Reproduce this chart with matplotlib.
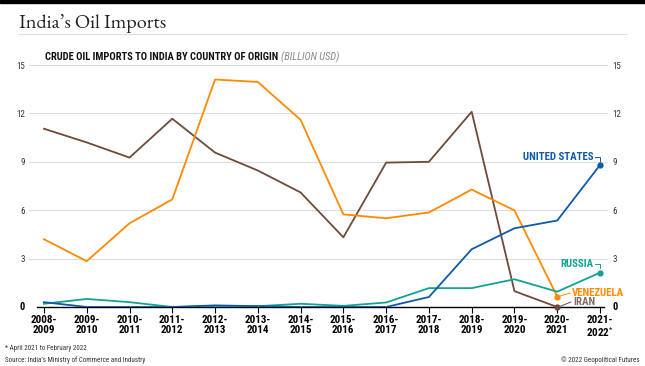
import numpy as np
import matplotlib.pyplot as plt
from matplotlib.patches import Rectangle
from matplotlib.lines import Line2D
from matplotlib.ticker import FuncFormatter

years = ['2008-\n2009', '2009-\n2010', '2010-\n2011', '2011-\n2012', '2012-\n2013',
         '2013-\n2014', '2014-\n2015', '2015-\n2016', '2016-\n2017', '2017-\n2018',
         '2018-\n2019', '2019-\n2020', '2020-\n2021', '2021-\n2022$^{*}$']

iran = [11.05, 10.2, 9.26, 11.67, 9.57, 8.46, 7.1, 4.32, 8.95, 9.0, 12.1, 0.98, 0.0]
venezuela = [4.2, 2.84, 5.19, 6.67, 14.1, 13.95, 11.6, 5.74, 5.5, 5.86, 7.28, 5.99, 0.65]
united_states = [0.3, 0.0, 0.0, 0.0, 0.1, 0.05, 0.0, 0.0, 0.0, 0.62, 3.58, 4.88, 5.36, 8.8]
russia = [0.2, 0.5, 0.3, 0.0, 0.05, 0.05, 0.2, 0.07, 0.28, 1.17, 1.17, 1.72, 0.95, 2.13]

c_iran = '#6e4a3a'
c_ven = '#ff8a00'
c_us = '#0f5aa6'
c_rus = '#12a392'

plt.rcParams['font.family'] = ['Roboto Condensed', 'DejaVu Sans']
plt.rcParams['mathtext.fontset'] = 'custom'
plt.rcParams['mathtext.rm'] = 'Roboto Condensed'
plt.rcParams['mathtext.it'] = 'Roboto Condensed'

W, H = 645, 366
fig = plt.figure(figsize=(W / 100, H / 100), dpi=100)

# top bar, title and rule
fig.patches.append(Rectangle((0, 1 - 3 / H), 1, 3 / H, transform=fig.transFigure,
                             color='black', zorder=5))
fig.text(19 / W, 1 - 28 / H, 'India\u2019s Oil Imports', family=['EB Garamond', 'DejaVu Serif'],
         fontsize=14.5, color='#222222', va='baseline', ha='left')
fig.add_artist(Line2D([19 / W, 627 / W], [1 - 34 / H, 1 - 34 / H], color='#dddddd', lw=0.8))
t = fig.text(45 / W, 1 - 57 / H, 'CRUDE OIL IMPORTS TO INDIA BY COUNTRY OF ORIGIN ',
             fontsize=7.6, fontweight='bold', color='#111111', va='center', ha='left')
fig.canvas.draw()
bb = t.get_window_extent()
fig.text(bb.x1 / W, 1 - 57 / H, '(BILLION USD)', fontsize=7.6, fontstyle='italic',
         color='#888888', va='center', ha='left')

ax = fig.add_axes([29 / W, (H - 307) / H, (608 - 29) / W, (307 - 65) / H])
x = np.arange(len(years))

ax.plot(x[:len(iran)], iran, color=c_iran, lw=1.3, zorder=3)
ax.plot(x[:len(venezuela)], venezuela, color=c_ven, lw=1.3, zorder=3)
ax.plot(x, russia, color=c_rus, lw=1.3, zorder=3)
ax.plot(x, united_states, color=c_us, lw=1.3, zorder=4)

ax.plot(len(iran) - 1, iran[-1], 'o', color=c_iran, ms=3.5, zorder=5, clip_on=False)
ax.plot(len(venezuela) - 1, venezuela[-1], 'o', color=c_ven, ms=3.5, zorder=5)
ax.plot(x[-1], russia[-1], 'o', color=c_rus, ms=3.5, zorder=5)
ax.plot(x[-1], united_states[-1], 'o', color=c_us, ms=3.5, zorder=5)

ax.set_xlim(-0.35, 13.187)
ax.set_ylim(0, 15)
ax.set_yticks([0, 3, 6, 9, 12, 15])
ax.yaxis.set_major_formatter(FuncFormatter(lambda v, p: '' if v == 0 else f'{v:g}'))
ax.grid(axis='y', color='#dddddd', lw=0.8)
ax.set_axisbelow(True)
for s in ['top', 'right', 'left', 'bottom']:
    ax.spines[s].set_visible(False)
ax.plot([-0.17, 13.1], [0, 0], color='black', lw=1.0, zorder=2, clip_on=False)
ax.tick_params(axis='y', length=0, labelsize=6.5, labelcolor='#333333', pad=3,
               labelleft=True, labelright=True)
# zero labels drawn darker, as in the original
tr = ax.get_yaxis_transform()
ax.text(-0.008, 0, '0', transform=tr, ha='right', va='center', fontsize=7.5,
        fontweight='bold', color='black')
ax.text(1.008, 0, '0', transform=tr, ha='left', va='center', fontsize=7.5,
        fontweight='bold', color='black')
ax.set_xticks(x)
ax.set_xticklabels(years, fontsize=8, fontweight='bold', linespacing=0.95)
ax.tick_params(axis='x', length=4, width=0.8, color='black', pad=2)

# series labels
lab = dict(fontsize=7.8, fontweight='bold', va='center')
ax.text(12.84, 9.3, 'UNITED STATES', color=c_us, ha='right', **lab)
ax.plot([12.88, 13.0, 13.0], [9.3, 9.3, 9.05], color=c_us, lw=0.7)
ax.text(12.84, 2.65, 'RUSSIA', color=c_rus, ha='right', **lab)
ax.plot([12.88, 13.0, 13.0], [2.65, 2.65, 2.4], color=c_rus, lw=0.7)
ax.text(12.35, 0.86, 'VENEZUELA', color=c_ven, ha='left', **lab)
ax.plot([12.08, 12.3], [0.7, 0.86], color=c_ven, lw=0.7)
ax.text(12.37, 0.31, 'IRAN', color='#7d6b60', ha='left', **lab)
ax.plot([12.08, 12.32], [0.05, 0.31], color=c_iran, lw=0.7)

fig.text(5 / W, 1 - 349 / H, '* April 2021 to February 2022', fontsize=5,
         color='#333333', va='center')
fig.text(5 / W, 1 - 360 / H, 'Source: India\u2019s Ministry of Commerce and Industry',
         fontsize=5, color='#333333', va='center')
fig.text(640 / W, 1 - 360 / H, '\u00a9 2022 Geopolitical Futures', fontsize=5,
         color='#333333', va='center', ha='right')

fig.savefig('out.png', dpi=100)
